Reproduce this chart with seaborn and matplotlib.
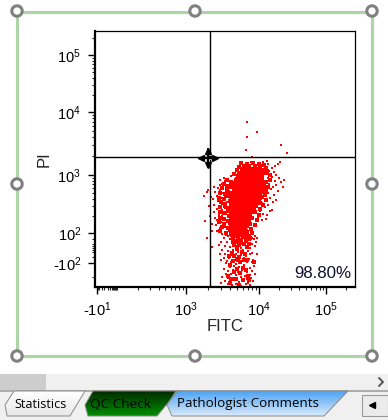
import numpy as np
import pandas as pd
import seaborn as sns
import matplotlib
matplotlib.use('Agg')
import matplotlib.pyplot as plt
from matplotlib.patches import Circle, Polygon, Rectangle

# FITC is kept as log10 of the value, PI as the value itself
CORE_FITC = [3.81, 3.88, 3.95,
             3.74, 3.81, 3.88, 3.95, 4.01,
             3.72, 3.79, 3.86, 3.93, 4.00,
             3.70, 3.77, 3.84, 3.91, 3.98, 4.04,
             3.68, 3.74, 3.81, 3.88, 3.95, 4.01,
             3.66, 3.72, 3.79, 3.86, 3.93, 3.99,
             3.64, 3.70, 3.77, 3.84, 3.91, 3.97,
             3.64, 3.70, 3.77, 3.84, 3.91,
             3.64, 3.70, 3.77, 3.84, 3.90,
             3.66, 3.72, 3.79, 3.85,
             3.66, 3.72, 3.78, 3.83,
             3.64, 3.70, 3.76,
             3.66, 3.72, 3.78,
             3.66, 3.74, 3.80]
CORE_PI = [1150, 1150, 1150,
           900, 900, 900, 900, 900,
           780, 780, 780, 780, 780,
           680, 680, 680, 680, 680, 680,
           557, 557, 557, 557, 557, 557,
           460, 460, 460, 460, 460, 460,
           377, 377, 377, 377, 377, 377,
           310, 310, 310, 310, 310,
           255, 255, 255, 255, 255,
           210, 210, 210, 210,
           172, 172, 172, 172,
           143, 143, 143,
           120, 120, 120,
           100, 100, 100]

MID_FITC = [3.76, 3.84, 3.92, 4.00, 4.08,
            3.72, 3.80, 3.86, 3.94, 4.02, 4.10,
            3.70, 3.77, 3.84, 4.00, 4.06, 4.12,
            3.66, 3.72, 3.99, 4.05, 4.11, 4.16,
            3.56, 3.62, 3.68, 4.05, 4.10, 4.16,
            3.52, 3.58, 3.63, 4.08, 4.13,
            3.50, 3.56, 3.62, 4.05, 4.10,
            3.47, 3.53, 3.58, 3.62, 4.05, 4.09,
            3.45, 3.52, 3.57, 3.61, 4.04, 4.10,
            3.48, 3.54, 3.60, 4.01, 4.06,
            3.47, 3.53, 3.58, 3.96, 4.02,
            3.46, 3.52, 3.58, 3.95, 4.00,
            3.46, 3.52, 3.59, 3.91, 3.97,
            3.45, 3.52, 3.58, 3.88, 3.95,
            3.50, 3.57, 3.83, 3.89,
            3.47, 3.55, 3.60, 3.84, 3.91,
            3.62, 3.68, 3.74, 3.80, 3.86, 3.65, 3.71, 3.78, 3.84, 3.88,
            3.64, 3.70, 3.76, 3.82, 3.86, 3.66, 3.72, 3.79, 3.84, 3.70,
            3.77, 3.63, 3.81, 3.66, 3.73, 3.59, 3.79, 3.70, 3.64, 3.74,
            3.84, 3.60, 3.70, 3.78, 3.66, 3.74, 3.82, 3.58, 3.68, 3.78,
            3.62, 3.86, 3.72, 3.60, 3.85, 3.93]
MID_PI = [1530, 1470, 1560, 1490, 1450,
          1340, 1390, 1310, 1370, 1330, 1300,
          1220, 1260, 1190, 1240, 1200, 1170,
          1040, 1090, 1060, 1020, 1070, 990,
          810, 770, 840, 850, 760, 810,
          700, 660, 720, 680, 640,
          600, 560, 620, 580, 540,
          505, 480, 520, 470, 510, 460,
          420, 395, 440, 410, 430, 380,
          350, 330, 365, 345, 310,
          290, 305, 275, 300, 270,
          240, 225, 250, 235, 215,
          190, 180, 200, 185, 175,
          158, 148, 165, 150, 142,
          130, 122, 135, 118,
          108, 100, 112, 104, 96,
          88, 72, 92, 78, 70, 55, 58, 62, 52, 58,
          35, 40, 38, 42, 22, 18, 15, 20, 4, -5,
          -22, -25, -30, -45, -50, -45, -72, -65, -85, -92,
          -72, -110, -135, -128, -160, -165, -140, -190, -215, -225,
          -220, -230, -275, -255, -190, -90]

UPPER_FITC = [3.72, 3.78, 3.83, 3.87, 3.91, 3.95, 3.99, 4.03, 4.07, 4.11, 4.15, 4.19,
              4.24, 4.06, 4.14, 3.89, 3.80, 4.01, 4.09, 4.17, 4.22, 3.75, 3.93, 4.28,
              4.31, 4.12, 3.98, 4.20, 4.26, 3.85, 4.05, 4.13, 4.10, 4.18, 4.24, 4.30]
UPPER_PI = [1050, 1180, 1320, 1450, 1250, 1380, 1290, 1440, 1210, 1360, 1150, 1280,
            1400, 1600, 1520, 1600, 1080, 1120, 1050, 1020, 1100, 1230, 1100, 1510,
            1620, 1680, 1540, 940, 1010, 1090, 980, 890, 800, 860, 780, 900]

RIGHT_FITC = [4.06, 4.10, 4.15, 4.21, 4.26, 4.33, 4.08, 4.13, 4.18, 4.23, 4.28, 4.06,
              4.11, 4.16, 4.21, 4.05, 4.09, 4.14, 4.20, 4.02, 4.06, 4.12, 3.99, 4.04,
              4.00, 4.25, 4.17, 4.10, 4.36, 4.03, 4.38, 4.07, 4.15]
RIGHT_PI = [720, 650, 700, 620, 680, 750, 560, 500, 580, 470, 530, 440,
            390, 420, 350, 340, 290, 320, 260, 250, 220, 210, 190, 170,
            280, 380, 250, 180, 620, 400, 840, 330, 600]

LEFT_FITC = [3.62, 3.58, 3.53, 3.60, 3.55, 3.49, 3.44, 3.62, 3.57, 3.51, 3.46, 3.40,
             3.60, 3.54, 3.48, 3.42, 3.37, 3.61, 3.56, 3.50, 3.44, 3.39, 3.60, 3.54,
             3.49, 3.43, 3.38, 3.60, 3.55, 3.50, 3.45, 3.40, 3.60, 3.54, 3.48, 3.42,
             3.36, 3.59, 3.53, 3.47, 3.41, 3.60, 3.55, 3.49, 3.43, 3.67, 3.70, 3.65,
             3.52, 3.46, 3.39, 3.34, 3.32, 3.30, 3.33, 3.35, 3.47]
LEFT_PI = [950, 860, 780, 700, 640, 720, 610, 600, 540, 500, 560, 520,
           470, 430, 410, 450, 400, 380, 350, 330, 360, 310, 300, 280,
           260, 270, 240, 240, 220, 205, 215, 190, 190, 170, 160, 175,
           150, 150, 130, 125, 140, 120, 105, 95, 110, 1050, 880, 1000,
           900, 830, 640, 430, 300, 560, 200, 110, 680]

LOWER_FITC = [3.55, 3.62, 3.69, 3.76, 3.83, 3.88, 3.92, 3.58, 3.65, 3.72, 3.79, 3.85,
              3.90, 3.95, 3.52, 3.60, 3.67, 3.74, 3.81, 3.87, 3.93, 3.97, 3.48, 3.56,
              3.63, 3.70, 3.77, 3.84, 3.90, 3.96, 3.45, 3.53, 3.60, 3.68, 3.75, 3.82,
              3.88, 3.94, 3.50, 3.57, 3.64, 3.71, 3.78, 3.85, 3.91, 3.46, 3.54, 3.61,
              3.68, 3.75, 3.82, 3.88, 3.97, 3.52, 3.59, 3.66, 3.72, 3.79, 3.86, 3.92,
              3.48, 3.56, 3.63, 3.70, 3.77, 3.84, 3.90, 3.55, 3.62, 3.68, 3.60, 3.66,
              3.73, 3.80, 3.87, 3.93, 3.52, 3.58, 3.64, 3.71, 3.77, 3.84, 3.90, 3.55,
              3.62, 3.68, 3.74, 3.81, 3.87, 3.95, 3.50, 3.57, 3.64, 3.70, 3.76, 3.83,
              3.89, 3.54, 3.60, 3.66, 3.72, 3.79, 3.85, 3.92, 3.58, 3.63, 3.69, 3.75,
              3.82, 3.87, 3.48]
LOWER_PI = [85, 80, 90, 85, 90, 80, 95, 70, 65, 70, 72, 65,
            60, 75, 60, 50, 45, 50, 55, 42, 48, 55, 35, 32,
            25, 28, 22, 30, 20, 30, 15, 10, 5, 8, 2, 12,
            0, 8, -10, -15, -12, -20, -8, -18, -25, -30, -35, -40,
            -32, -38, -45, -35, -30, -55, -60, -52, -65, -58, -62, -70,
            -75, -80, -72, -85, -78, -90, -95, -100, -95, -105, -120, -115,
            -125, -110, -130, -115, -135, -150, -140, -155, -145, -160, -150, -175,
            -170, -185, -175, -190, -180, -170, -200, -210, -205, -220, -200, -215,
            -205, -235, -245, -230, -250, -240, -255, -235, -270, -280, -265, -285,
            -270, -280, -260]

STRAY_FITC = [3.84, 3.83, 4.33, 3.82, 3.97, 4.42, 3.90, 3.29, 3.24, 3.26, 3.29, 3.36]
STRAY_PI = [6900, 3950, 2950, 2530, 4800, 2260, 1950, 520, 440, 165, 60, 5]

GATE_FITC = 2130
GATE_PI = 1950
PERCENT_LABEL = '98.80%'

X_TICKS = [-10, 1e3, 1e4, 1e5]
X_TICK_LABELS = ['-10$^{1}$', '10$^{3}$', '10$^{4}$', '10$^{5}$']
Y_TICKS = [-100, 100, 1e3, 1e4, 1e5]
Y_TICK_LABELS = ['-10$^{2}$', '10$^{2}$', '10$^{3}$', '10$^{4}$', '10$^{5}$']
TAB_NAMES = ['Statistics', 'QC Check', 'Pathologist Comments']
TAB_TEXT_LEFT = [14.5, 90, 177]
TAB_TEXT_SIZE = [9.1, 9.7, 9.6]

# axis calibration of the biexponential display, value -> pixels from axes origin
X_KNOT_VALUES = np.array([-15, -10, 0, 10, 100, 1e3, 1e4, 1e5, 2.7e5])
X_KNOT_PIXELS = np.array([0, 2, 4, 9, 22, 91, 164, 231, 260])
Y_KNOT_VALUES = np.array([-300, -200, -100, 0, 100, 1e3, 1e4, 1e5, 2.6e5])
Y_KNOT_PIXELS = np.array([0, 10, 24, 39, 54, 112, 175, 232, 256])


def _make_scale(values, pixels, c):
    """Scale functions for a piecewise log display

    """
    knots = np.arcsinh(values / c)

    def forward(v):
        return np.interp(np.arcsinh(np.asarray(v) / c), knots, pixels)

    def inverse(p):
        return c * np.sinh(np.interp(p, pixels, knots))

    return forward, inverse


def _gradient_poly(ax, points, top, bottom):
    """Polygon filled with a vertical colour gradient

    """
    poly = Polygon(points, closed=True, fc='none', ec='#8a8a8a', lw=0.7, zorder=3)
    ax.add_patch(poly)
    xs = [p[0] for p in points]
    ys = [p[1] for p in points]
    cmap = matplotlib.colors.LinearSegmentedColormap.from_list('tab', [top, bottom])
    im = ax.imshow(np.linspace(0, 1, 32)[:, None], cmap=cmap, aspect='auto', zorder=2,
                   extent=(min(xs), max(xs), max(ys), min(ys)))
    im.set_clip_path(poly)


def draw_window(ui):
    """Selection frame and the tab bar around the plot

    """
    ui.add_patch(Rectangle((17, 12), 355, 344, fc='none', ec='#aed5a5', lw=2.3))
    for x, y in [(17, 11), (195, 11), (372, 11), (17, 184), (372, 184),
                 (17, 356), (195, 356), (372, 356)]:
        ui.add_patch(Circle((x, y), 5.2, fc='white', ec='#808080', lw=2.2, zorder=4))

    # scroll bar
    ui.add_patch(Rectangle((0, 374), 388, 16, fc='#f0f0f0', ec='none'))
    ui.add_patch(Rectangle((0, 374), 46, 16, fc='#cdcdcd', ec='none'))
    ui.plot([379, 383, 379], [378, 382, 386], color='#555555', lw=1.4)

    # tab bar
    ui.add_patch(Rectangle((0, 390), 388, 30, fc='#f0f0f0', ec='none'))
    ui.plot([0, 388], [390.5, 390.5], color='#a0a0a0', lw=1.2)
    _gradient_poly(ui, [(14, 391), (85, 391), (70, 416), (7, 416), (5, 405)], '#ffffff', '#e8e8e8')
    _gradient_poly(ui, [(93, 391), (178, 391), (157, 416), (88, 416), (85, 405)], '#002d00', '#008c00')
    _gradient_poly(ui, [(176, 391), (348, 391), (324, 416), (172, 416), (167, 405)], '#4ea4f4', '#d8e9fb')
    for name, left, size in zip(TAB_NAMES, TAB_TEXT_LEFT, TAB_TEXT_SIZE):
        ui.text(left, 404, name, family='Open Sans', fontsize=size, color='black',
                va='center', zorder=5)
    ui.add_patch(Rectangle((362, 395), 26, 21, fc='#ebebeb', ec='#999999', lw=0.8))
    ui.plot([372], [405], marker='<', ms=4, color='black')


def draw_cursor(top):
    """Move cursor on the gate crossing

    """
    top.plot([208, 208], [149, 167], color='black', lw=1.6)
    top.plot([199, 217], [158, 158], color='black', lw=1.6)
    for m, x, y in [('^', 208, 151), ('v', 208, 165), ('<', 201, 158), ('>', 215, 158)]:
        top.plot([x], [y], marker=m, ms=5, color='black')
    top.add_patch(Rectangle((208, 155), 3.5, 3.5, fc='black', ec='white', lw=0.5))


if __name__ == '__main__':

    sns.set_style('white')
    plt.rcParams['font.family'] = ['Liberation Sans', 'DejaVu Sans']
    plt.rcParams['mathtext.fontset'] = 'custom'
    plt.rcParams['mathtext.rm'] = 'Liberation Sans'
    plt.rcParams['mathtext.default'] = 'regular'

    W, H = 388, 420
    f = plt.figure(figsize=(W / 100., H / 100.), dpi=100)

    ui = f.add_axes([0, 0, 1, 1], zorder=0)
    ax = f.add_axes([95. / W, (H - 287.) / H, 260. / W, 256. / H], zorder=1)
    top = f.add_axes([0, 0, 1, 1], zorder=2)

    ax.set_xscale('function', functions=_make_scale(X_KNOT_VALUES, X_KNOT_PIXELS, 5.))
    ax.set_yscale('function', functions=_make_scale(Y_KNOT_VALUES, Y_KNOT_PIXELS, 60.))

    speck = pd.DataFrame({
        'FITC': 10 ** np.array(UPPER_FITC + RIGHT_FITC + LEFT_FITC + LOWER_FITC + STRAY_FITC),
        'PI': UPPER_PI + RIGHT_PI + LEFT_PI + LOWER_PI + STRAY_PI,
    })
    mid = pd.DataFrame({'FITC': 10 ** np.array(MID_FITC), 'PI': MID_PI})
    core = pd.DataFrame({'FITC': 10 ** np.array(CORE_FITC), 'PI': CORE_PI})

    sns.scatterplot(data=speck, x='FITC', y='PI', ax=ax, marker='s', s=3.5,
                    color='#ff0000', linewidth=0)
    sns.scatterplot(data=mid, x='FITC', y='PI', ax=ax, marker='s', s=6,
                    color='#ff0000', linewidth=0)
    sns.scatterplot(data=core, x='FITC', y='PI', ax=ax, marker='s', s=26,
                    color='#ff0000', linewidth=0)

    ax.axvline(GATE_FITC, color='black', lw=1)
    ax.axhline(GATE_PI, color='black', lw=1)

    ax.set_xlim(-15, 2.7e5)
    ax.set_ylim(-300, 2.6e5)

    ax.set_xticks(X_TICKS, X_TICK_LABELS)
    ax.set_yticks(Y_TICKS, Y_TICK_LABELS)
    x_minor = [-5, 0, 5, 10, 20, 30, 40, 50, 60, 70, 80, 90, 100]
    y_minor = [-200, -50, -20, -10, 0, 10, 20, 50]
    for base in [100, 1000, 10000, 100000]:
        x_minor += [base * k for k in range(2, 10) if base * k < 2.7e5]
        y_minor += [base * k for k in range(2, 10) if base * k < 2.6e5]
    ax.set_xticks(x_minor, minor=True)
    ax.set_yticks(y_minor, minor=True)
    ax.tick_params(axis='both', which='major', length=5, width=1, labelsize=10.5, pad=5,
                   bottom=True, left=True, colors='black')
    ax.tick_params(axis='both', which='minor', length=2.5, width=0.8,
                   bottom=True, left=True, labelbottom=False, labelleft=False)
    ax.set_xlabel('FITC', fontsize=12, labelpad=0)
    ax.set_ylabel('PI', fontsize=12, labelpad=1)

    for side in ['top', 'right']:
        ax.spines[side].set_linewidth(0.9)
    for side in ['left', 'bottom']:
        ax.spines[side].set_linewidth(1.6)
    for spine in ax.spines.values():
        spine.set_color('black')

    ax.text(0.985, 0.025, PERCENT_LABEL, transform=ax.transAxes, ha='right', va='bottom',
            fontsize=12.2, color='#101030')

    draw_window(ui)
    draw_cursor(top)
    for overlay in [ui, top]:
        overlay.set_xlim(0, W)
        overlay.set_ylim(H, 0)
        overlay.axis('off')
    ax.patch.set_alpha(0)

    f.savefig('out.png', dpi=100)
